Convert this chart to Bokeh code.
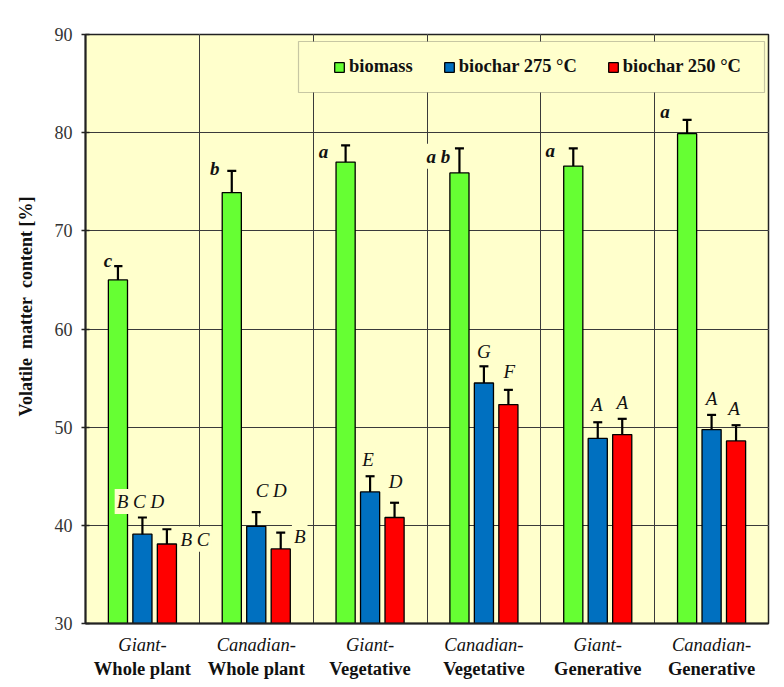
import numpy as np
from bokeh.plotting import figure
from bokeh.models import (ColumnDataSource, FixedTicker, LinearAxis, Grid, Whisker,
                          TeeHead, Legend, LegendItem, BoxAnnotation, Range1d)
from bokeh.core.properties import value
from bokeh.embed import file_html
from bokeh.resources import INLINE

# ---- data -------------------------------------------------------------
group_top = ["Giant-", "Canadian-", "Giant-", "Canadian-", "Giant-", "Canadian-"]
group_bottom = ["Whole plant", "Whole plant", "Vegetative", "Vegetative",
                "Generative", "Generative"]
series_names = ["biomass", "biochar 275 \u00b0C", "biochar 250 \u00b0C"]

biomass = [65.0, 73.9, 77.0, 75.9, 76.6, 79.9]
biomass_err = [1.4, 2.2, 1.7, 2.5, 1.8, 1.4]
biochar_275 = [39.1, 39.9, 43.4, 54.5, 48.85, 49.75]
biochar_275_err = [1.7, 1.45, 1.6, 1.7, 1.65, 1.5]
biochar_250 = [38.1, 37.6, 40.8, 52.3, 49.25, 48.6]
biochar_250_err = [1.5, 1.65, 1.5, 1.5, 1.6, 1.6]

letters_biomass = ["c", "b", "a", "a b", "a", "a"]
letters_275 = ["B C D", "C D", "E", "G", "A", "A"]
letters_250 = ["B C", "B", "D", "F", "A", "A"]

y_ticks = [30, 40, 50, 60, 70, 80, 90]

# ---- styling ----------------------------------------------------------
FONT = "Liberation Serif"
PLOT_BG = "#FFFFCC"
colors = ["#66FF33", "#0070C0", "#FF0000"]
offsets = [-0.215, 0.0, 0.215]      # dodge within each group (category units)
bar_w = 0.168

# label nudges in screen pixels (x right, y down), one per bar
lbl_dx = [[-10, -17, -22, -21, -23, -22],
          [-2, 15, -2, 0, -1, 0],
          [28, 19, 1, 1, 0, -2]]
lbl_dy = [[-6, -2, 6, 8, 2, -8],
          [-16, -22, -17, -15, -18, -16],
          [10, 4, -21, -18, -16, -17]]

n = len(group_top)
centers = np.arange(n) + 0.5

p = figure(width=784, height=687, output_backend="svg", toolbar_location=None,
           x_range=Range1d(0, n), y_range=Range1d(30, 90),
           x_axis_location=None, y_axis_location=None,
           min_border_left=85, min_border_right=16, min_border_top=34,
           min_border_bottom=64)
p.background_fill_color = PLOT_BG
p.border_fill_color = "white"
p.outline_line_color = "#222222"
p.outline_line_width = 1.5

# grids: horizontal at value ticks, vertical at group boundaries
p.add_layout(Grid(dimension=1, ticker=FixedTicker(ticks=y_ticks),
                  grid_line_color="#3a3a3a", grid_line_width=1))
p.add_layout(Grid(dimension=0, ticker=FixedTicker(ticks=list(range(1, n))),
                  grid_line_color="#3a3a3a", grid_line_width=1))

# y axis
yaxis = LinearAxis(ticker=FixedTicker(ticks=y_ticks),
                   axis_label="\u00a0" * 10 + "Volatile\u00a0\u00a0matter\u00a0\u00a0content\u00a0[%]")
yaxis.axis_line_color = "#222222"
yaxis.axis_line_width = 2
yaxis.major_tick_in = 4
yaxis.major_tick_out = 4
yaxis.major_tick_line_color = "#222222"
yaxis.major_tick_line_width = 1.5
yaxis.minor_tick_line_color = None
yaxis.major_label_standoff = 9
yaxis.major_label_text_font = FONT
yaxis.major_label_text_font_size = "18px"
yaxis.major_label_text_color = "#333333"
yaxis.axis_label_text_font = FONT
yaxis.axis_label_text_font_size = "18px"
yaxis.axis_label_text_font_style = "bold"
yaxis.axis_label_text_color = "#111111"
yaxis.axis_label_standoff = 16
p.add_layout(yaxis, "left")

# x axes: italic first line, bold second line
def group_axis(labels, standoff, style, line):
    ax = LinearAxis(ticker=FixedTicker(ticks=list(centers)),
                    major_label_overrides={float(c): t for c, t in zip(centers, labels)})
    ax.axis_line_color = "#222222" if line else None
    ax.axis_line_width = 2
    ax.major_tick_line_color = None
    ax.minor_tick_line_color = None
    ax.major_tick_out = 0
    ax.major_tick_in = 0
    ax.minor_tick_out = 0
    ax.major_label_standoff = standoff
    ax.major_label_text_font = FONT
    ax.major_label_text_font_size = "18.5px"
    ax.major_label_text_font_style = style
    ax.major_label_text_color = "#111111"
    return ax

p.add_layout(group_axis(group_top, 11, "italic", True), "below")
p.add_layout(group_axis(group_bottom, 1, "bold", False), "below")

# bars, error bars and significance letters
values = [biomass, biochar_275, biochar_250]
errors = [biomass_err, biochar_275_err, biochar_250_err]
letters = [letters_biomass, letters_275, letters_250]
legend_items = []
for k in range(3):
    v = np.array(values[k])
    e = np.array(errors[k])
    src = ColumnDataSource(dict(x=centers + offsets[k], top=v,
                                upper=v + e, lower=v - e,
                                letter=letters[k], dx=lbl_dx[k], dy=lbl_dy[k]))
    r = p.vbar(x="x", top="top", bottom=30, width=bar_w, source=src,
               fill_color=colors[k], line_color="black", line_width=1.3)
    legend_items.append(LegendItem(label=series_names[k], renderers=[r]))
    p.add_layout(Whisker(source=src, base="x", upper="upper", lower="lower",
                         line_color="black", line_width=2.2,
                         upper_head=TeeHead(size=9, line_width=2.2, line_color="black"),
                         lower_head=TeeHead(size=9, line_width=2.2, line_color="black")))
    p.text(x="x", y="upper", text="letter", source=src, x_offset="dx", y_offset="dy",
           text_font=value(FONT), text_font_size="19px",
           text_font_style="bold italic" if k == 0 else "italic",
           text_color="#111111", text_align="center", text_baseline="middle",
           background_fill_color=PLOT_BG, padding=2)

# legend frame drawn as a box, legend entries placed inside it
p.add_layout(BoxAnnotation(left=298, right=764, top=41, bottom=92,
                           left_units="canvas", right_units="canvas",
                           top_units="canvas", bottom_units="canvas",
                           fill_color=PLOT_BG, fill_alpha=1.0,
                           line_color="#444444", line_width=1.2))
legend = Legend(items=legend_items, orientation="horizontal", location=(248, 546),
                padding=0, spacing=30, margin=0, glyph_width=12, glyph_height=12,
                label_standoff=4, label_height=20,
                label_text_font=FONT, label_text_font_size="18.5px",
                label_text_font_style="bold", label_text_color="#111111",
                border_line_color=None, background_fill_alpha=0.0)
p.add_layout(legend, "center")

# light chart-area border
p.add_layout(BoxAnnotation(left=8, right=900, top=10, bottom=900,
                           left_units="canvas", right_units="canvas",
                           top_units="canvas", bottom_units="canvas",
                           fill_alpha=0, line_color="#D9D9D9", line_width=2,
                           level="underlay"))

open("out.html", "w").write(file_html(p, INLINE))
